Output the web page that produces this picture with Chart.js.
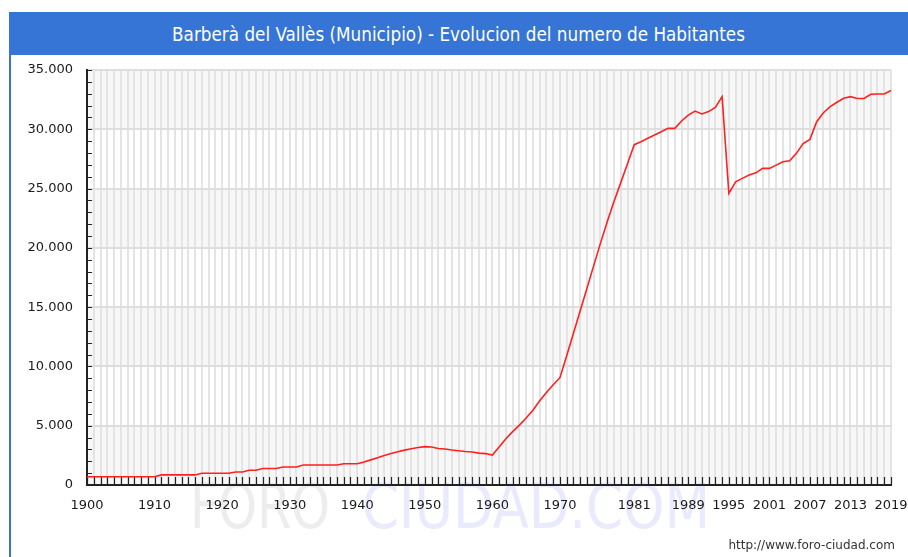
<!DOCTYPE html>
<html>
<head>
<meta charset="utf-8">
<script src="https://cdn.jsdelivr.net/npm/chart.js@4"></script>
<style>
  body { margin: 0; background: #fff; }
  #wrap { position: relative; width: 908px; height: 557px; overflow: hidden; }
  #box { position: absolute; left: 0; top: 0; width: 908px; height: 557px; }
  #titlebar {
    position: absolute; left: 9px; top: 12px; width: 899px; height: 43px;
    background: #3674d6; color: #fff; text-align: center;
    font: 18.7px "DejaVu Sans Condensed", "DejaVu Sans", sans-serif; line-height: 45px;
  }
  #leftline { position: absolute; left: 9px; top: 12px; width: 2px; height: 545px; background: #3674d6; }
  #footer {
    position: absolute; right: 13px; top: 538px;
    font: 12px "DejaVu Sans", sans-serif; color: #333;
  }
</style>
</head>
<body>
<div id="wrap">
  <div id="box"><canvas id="ex_chart"></canvas></div>
  <div id="leftline"></div>
  <div id="titlebar">Barberà del Vallès (Municipio) - Evolucion del numero de Habitantes</div>
  <div id="footer">http://www.foro-ciudad.com</div>
</div>
<script>
// one category per year
let years = []
for (let y = 1900; y <= 2019; y++) years.push(String(y))

let shownYears = ['1900','1910','1920','1930','1940','1950','1960','1970','1981','1989','1995','2001','2007','2013','2019']

// habitantes, one value per year
let hab1900 = [700,700,700,700,700,700,700,700,700,700]
let hab1910 = [700,850,850,850,850,850,850,990,990,990]
let hab1920 = [990,990,1100,1100,1240,1240,1390,1390,1390,1520]
let hab1930 = [1520,1520,1690,1690,1690,1690,1690,1690,1790,1790]
let hab1940 = [1790,1940,2120,2300,2480,2650,2800,2940,3060,3160]
let hab1950 = [3240,3200,3080,3030,2950,2890,2820,2780,2690,2650]
let hab1960 = [2520,3200,3900,4500,5050,5650,6300,7100,7800,8450]
let hab1970 = [9050,10900,12800,14700,16600,18500,20400,22200,23900,25500]
let hab1980 = [27100,28700,28950,29250,29520,29800,30080,30080,30700,31200]
let hab1990 = [31540,31290,31490,31850,32750,24600,25570,25860,26140,26330]
let hab2000 = [26700,26700,26980,27260,27350,27970,28800,29150,30640,31400]
let hab2010 = [31910,32280,32620,32750,32600,32600,32950,32980,32980,33270]
let habitantes = [].concat(hab1900, hab1910, hab1920, hab1930, hab1940, hab1950,
  hab1960, hab1970, hab1980, hab1990, hab2000, hab2010)

let yMax = 35000
let yMajor = 5000
let yMinor = 1000

function fmt(v) {
  return String(v).replace(/\B(?=(\d{3})+(?!\d))/g, '.')
}

// bands, watermark and the small inside ticks
let decor = {
  id: 'decor',
  beforeDraw(chart) {
    let c = chart.ctx, a = chart.chartArea, ys = chart.scales.y
    c.save()
    for (let v = 0; v < yMax; v += yMajor) {
      if ((v / yMajor) % 2 == 0) {
        let t = ys.getPixelForValue(v + yMajor), b = ys.getPixelForValue(v)
        c.fillStyle = '#f7f7f7'
        c.fillRect(a.left, t, a.right - a.left, b - t)
      }
    }
    // watermark
    c.font = '300 62px "DejaVu Sans Condensed", "DejaVu Sans", sans-serif'
    c.textBaseline = 'alphabetic'
    let w1 = c.measureText('FORO').width
    c.save(); c.translate(190, 528); c.scale(140 / w1, 1)
    c.fillStyle = '#ededed'; c.fillText('FORO', 0, 0); c.restore()
    let w2 = c.measureText('CIUDAD.COM').width
    c.save(); c.translate(362, 528); c.scale(348 / w2, 1)
    c.fillStyle = '#eaeafe'; c.fillText('CIUDAD.COM', 0, 0); c.restore()
    c.restore()
  },
  beforeDatasetsDraw(chart) {
    let c = chart.ctx, a = chart.chartArea, xs = chart.scales.x, ys = chart.scales.y
    c.save()
    c.strokeStyle = '#222'
    c.lineWidth = 1.2
    c.beginPath()
    xs.ticks.forEach((t, i) => {
      let x = Math.round(xs.getPixelForTick(i)) + 0.5
      c.moveTo(x, a.bottom); c.lineTo(x, a.bottom - 8)
    })
    ys.ticks.forEach((t, i) => {
      let y = Math.round(ys.getPixelForTick(i)) + 0.5
      c.moveTo(a.left, y); c.lineTo(a.left + 5, y)
    })
    c.stroke()
    c.restore()
  }
}

let ctx = document.getElementById('ex_chart')

let data = {
  labels: years,
  datasets: [{
    label: 'Habitantes',
    data: habitantes,
    borderColor: '#ff2020',
    borderWidth: 1.6,
    pointRadius: 0,
    tension: 0,
    fill: false
  }]
}

let options = {
  responsive: true,
  maintainAspectRatio: false,
  animation: false,
  layout: { padding: { left: 0, right: 17, top: 70, bottom: 0 } },
  plugins: { legend: { display: false }, tooltip: { enabled: false }, title: { display: false } },
  scales: {
    x: {
      type: 'category',
      offset: false,
      afterFit(s) { s.height = 72; s.paddingLeft = 0; s.paddingRight = 0 },
      grid: { color: '#e4e4e4', lineWidth: 2, drawTicks: false, offset: false },
      border: { color: '#222', width: 2 },
      ticks: {
        autoSkip: false, maxRotation: 0, minRotation: 0, padding: 13,
        color: '#1a1a1a', font: { family: 'DejaVu Sans', size: 13 },
        callback(v, i) { let l = years[i]; return shownYears.includes(l) ? l : '' }
      }
    },
    y: {
      min: 0, max: yMax,
      afterFit(s) { s.width = 87 },
      grid: {
        drawTicks: false, lineWidth: 2,
        color(c) { return c.tick && c.tick.value % yMajor == 0 ? '#dedede' : 'rgba(0,0,0,0)' }
      },
      border: { color: '#222', width: 2 },
      ticks: {
        stepSize: yMinor, maxTicksLimit: 40, autoSkip: false, padding: 14,
        color: '#1a1a1a', font: { family: 'DejaVu Sans', size: 13 },
        callback(v) { return v % yMajor == 0 ? fmt(v) : '' }
      }
    }
  }
}

let ex_chart = new Chart(ctx, {
  type: 'line',
  data: data,
  options: options,
  plugins: [decor]
})
</script>
</body>
</html>
